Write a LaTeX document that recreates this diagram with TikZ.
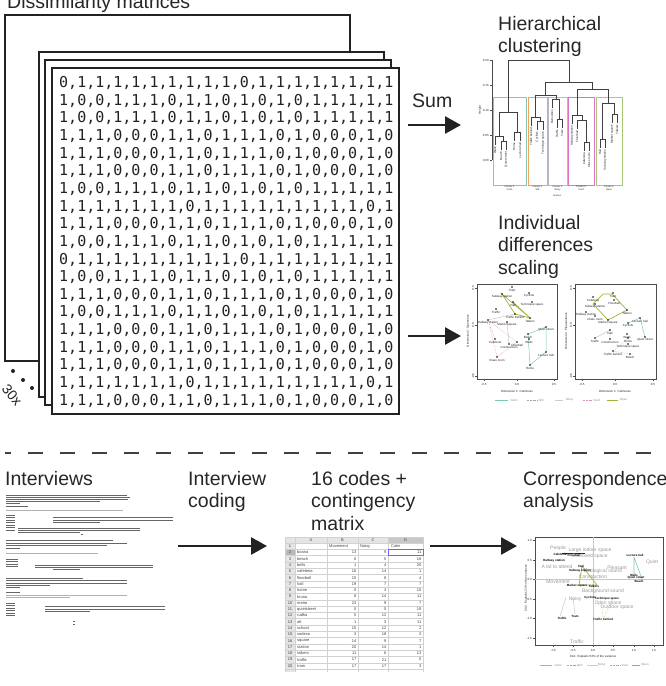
\documentclass[tikz,border=0pt]{standalone}
\usepackage{fontspec}
\setmainfont{Liberation Sans}
\newfontfamily\monofont{DejaVu Sans Mono}
\usetikzlibrary{arrows.meta}
\definecolor{ink}{HTML}{222222}
\definecolor{titlec}{HTML}{262626}
\definecolor{calmc}{HTML}{7CC8B4}
\definecolor{openc}{HTML}{9DB53A}
\definecolor{vividc}{HTML}{E08CC0}
\definecolor{c1box}{HTML}{88C8B0}
\definecolor{c2box}{HTML}{F2A65A}
\definecolor{c3box}{HTML}{B8B8C8}
\definecolor{c4box}{HTML}{E070C8}
\definecolor{c5box}{HTML}{A8C878}
\begin{document}
\begin{tikzpicture}[x=1pt,y=-1pt,
  title/.style={font=\fontsize{19.5}{22.8}\selectfont, text=titlec, inner sep=0pt, anchor=base west, align=left},
  mtx/.style={font=\monofont\fontsize{15}{17}\selectfont, text=ink, inner sep=0pt, anchor=base west},
  sheetbox/.style={draw=ink, line width=1.8pt, fill=white},
  bigarrow/.style={draw=ink, line width=2.7pt, -{Triangle[length=16pt,width=17pt]}},
  tt/.style={font=\fontsize{3}{3.4}\selectfont, inner sep=0pt, text=ink},
  tts/.style={font=\fontsize{2.4}{2.8}\selectfont, inner sep=0pt, text=ink},
  ttl/.style={font=\fontsize{3}{3.4}\selectfont, inner sep=0pt, text=black!45},
  cagray/.style={font=\fontsize{5}{5.5}\selectfont, inner sep=0pt, text=black!40},
  cablack/.style={font=\bfseries\fontsize{3}{3.4}\selectfont, inner sep=0pt, text=black},
  sheettxt/.style={font=\fontsize{4}{4.5}\selectfont, inner sep=0pt, text=black!75},
  dendro/.style={draw=black!75, line width=0.5pt},
  plotframe/.style={draw=black!70, line width=0.6pt},
  docline/.style={draw=black!60, line width=0.9pt},
  docgray/.style={draw=black!30, line width=0.8pt},
]
\useasboundingbox (0,0) rectangle (666,686);
\clip (0,0) rectangle (666,686);

% ---------- Dissimilarity matrices ----------
\node[title] (dm) at (7,8) {Dissimilarity matrices};
\draw[sheetbox] (5,15) rectangle (350,361);
\draw[sheetbox] (39,52) rectangle (384,397);
\draw[sheetbox] (45,60) rectangle (391,405);
\draw[sheetbox] (52,68) rectangle (399,414);
\foreach \r [count=\i from 0] in {
{0,1,1,1,1,1,1,1,1,1,0,1,1,1,1,1,1,1,1},
{1,0,0,1,1,1,0,1,1,0,1,0,1,0,1,1,1,1,1},
{1,0,0,1,1,1,0,1,1,0,1,0,1,0,1,1,1,1,1},
{1,1,1,0,0,0,1,1,0,1,1,1,0,1,0,0,0,1,0},
{1,1,1,0,0,0,1,1,0,1,1,1,0,1,0,0,0,1,0},
{1,1,1,0,0,0,1,1,0,1,1,1,0,1,0,0,0,1,0},
{1,0,0,1,1,1,0,1,1,0,1,0,1,0,1,1,1,1,1},
{1,1,1,1,1,1,1,0,1,1,1,1,1,1,1,1,1,0,1},
{1,1,1,0,0,0,1,1,0,1,1,1,0,1,0,0,0,1,0},
{1,0,0,1,1,1,0,1,1,0,1,0,1,0,1,1,1,1,1},
{0,1,1,1,1,1,1,1,1,1,0,1,1,1,1,1,1,1,1},
{1,0,0,1,1,1,0,1,1,0,1,0,1,0,1,1,1,1,1},
{1,1,1,0,0,0,1,1,0,1,1,1,0,1,0,0,0,1,0},
{1,0,0,1,1,1,0,1,1,0,1,0,1,0,1,1,1,1,1},
{1,1,1,0,0,0,1,1,0,1,1,1,0,1,0,0,0,1,0},
{1,1,1,0,0,0,1,1,0,1,1,1,0,1,0,0,0,1,0},
{1,1,1,0,0,0,1,1,0,1,1,1,0,1,0,0,0,1,0},
{1,1,1,1,1,1,1,0,1,1,1,1,1,1,1,1,1,0,1},
{1,1,1,0,0,0,1,1,0,1,1,1,0,1,0,0,0,1,0}}
  \node[mtx] (row\i) at (59,{87.5+17.65*\i}) {\r};
\fill[ink] (13,371) circle (2) (23,380) circle (2) (32,388) circle (2);
\node[font=\fontsize{14}{14}\selectfont, text=ink, rotate=-50, inner sep=0pt] (thirty) at (12,395) {30x};

% ---------- top arrows ----------
\node[title] (sum) at (412,107) {Sum};
\coordinate (a1s) at (408,125); \coordinate (a1e) at (461,125);
\coordinate (a2s) at (408,336); \coordinate (a2e) at (461,336);
\draw[bigarrow] (a1s) -- (a1e);
\draw[bigarrow] (a2s) -- (a2e);

% ---------- Hierarchical clustering ----------
\node[title] (hc) at (498,52.8) {Hierarchical\\clustering};
\draw[black!70, line width=0.5pt] (492,60) -- (492,160);
\foreach \yy/\lab [count=\i] in {60/0.20,85/0.15,110/0.10,135/0.05,160/0.00}{
  \draw[black!70, line width=0.4pt] (492,\yy) -- (490,\yy);
  \node[tt, anchor=east] (ht\i) at (489,\yy) {\lab};
}
\node[tt, rotate=90] (hlab) at (480,110) {Height};
\draw[c1box, line width=0.6pt] (493,97) rectangle (526,185);
\draw[c2box, line width=0.6pt] (528,97) rectangle (547,185);
\draw[c3box, line width=0.6pt] (548,97) rectangle (567,185);
\draw[c4box, line width=0.6pt] (568,97) rectangle (594,185);
\draw[c5box, line width=0.6pt] (596,97) rectangle (622,185);
% dendrogram
\draw[dendro] (501,150) |- (506,141) -- (506,150);
\draw[dendro] (495,145) |- (503.5,136) -- (503.5,141);
\draw[dendro] (514,141) |- (520,132) -- (520,141);
\draw[dendro] (499.25,136) |- (517,112) -- (517,132);
\draw[dendro] (537,130) |- (543,121) -- (543,130);
\draw[dendro] (531,126) |- (540,117) -- (540,121);
\draw[dendro] (557,128) |- (562,119) -- (562,128);
\draw[dendro] (552,108) |- (559.5,99) -- (559.5,119);
\draw[dendro] (535.5,117) |- (555.75,95) -- (555.75,99);
\draw[dendro] (584,151) |- (589,142) -- (589,151);
\draw[dendro] (577,129) |- (586.5,120) -- (586.5,142);
\draw[dendro] (572,124) |- (581.75,115) -- (581.75,120);
\draw[dendro] (600,148) |- (605,139) -- (605,148);
\draw[dendro] (612,123) |- (617,114) -- (617,123);
\draw[dendro] (602.5,139) |- (614.5,103) -- (614.5,114);
\draw[dendro] (576.9,115) |- (608.5,89) -- (608.5,103);
\draw[dendro] (545.6,95) |- (592.7,82) -- (592.7,89);
\draw[dendro] (508,112) |- (569.2,60) -- (569.2,82);
\foreach \xx/\yy/\lab [count=\i] in {495/145/Walls,501/150/Beach,506/150/Quiet street,514/141/Home,520/141/Lecture hall,
  531/126/Traffic behind,537/130/Cyclists,543/130/Technique space,552/108/Demolition,557/128/Traffic,562/128/Tram,
  572/124/Hallway station,577/129/Floorball,584/151/Cafeteria,589/151/Class room,600/148/Hall,605/148/Subway station,
  612/123/Market square,617/123/Talkers}
  \node[tt, rotate=90, anchor=east] (leaf\i) at (\xx,\yy+1.5) {\lab};
\foreach \xx/\lab [count=\i] in {509.5/Calm,537.5/Still,557.5/Noisy,581/Vivid,609/Open}
  \node[tts, align=center] (cl\i) at (\xx,188.5) {Cluster \i\\\lab};
\node[tts] (scenes) at (557,196) {Scenes};

% ---------- Individual differences scaling ----------
\node[title] (ids) at (498,274.6) {Individual\\differences\\scaling};
\draw[plotframe] (477,284) rectangle (557,379);
\draw[plotframe] (575,284) rectangle (656,379);
\foreach \px/\qa/\qb/\qc/\ylab [count=\k] in {477/484/517/554/{Dimension 2: Openness},575/582/615/653/{Dimension 2: Pleasantness}}{
  \foreach \yy/\lab [count=\i] in {288/0.5,325/0.0,376/-0.5}{
    \draw[black!70, line width=0.4pt] (\px,\yy) -- (\px-2,\yy);
    \node[tt, rotate=90] (my\k\i) at (\px-4,\yy) {\lab};
  }
  \foreach \xx/\lab [count=\i] in {\qa/-0.5,\qb/0.0,\qc/0.5}{
    \draw[black!70, line width=0.4pt] (\xx,379) -- (\xx,381);
    \node[tt] (mx\k\i) at (\xx,384) {\lab};
  }
  \node[tt] (mxl\k) at ({\px+40},391) {Dimension 1: Calmness};
  \node[tt, rotate=90] (myl\k) at (\px-9,331) {\ylab};
}
% left panel polygons
\draw[openc, line width=0.7pt] (502,294) -- (530,318) -- (515,314) -- cycle (513,302) -- (530,318);
\draw[calmc, line width=0.5pt] (546,327) -- (528,334) -- (530,365) -- (546,352) -- cycle;
\draw[vividc, line width=0.5pt, densely dotted] (488,320) -- (517,342) -- (497,357) -- cycle (488,320) -- (495,339);
\draw[black!25, line width=0.4pt] (515,314) -- (488,320) (507,322) -- (509,344);
\foreach \xx/\yy/\lab [count=\i] in {512/290/Tram,529/296/Cyclists,502/297/Subway station,513/305/Hall,532/305/Technique space,
  496/312/Traffic,515/317/Traffic behind,530/321/Talkers,488/323/Hallway station,507/325/Market square,546/330/Quiet street,
  528/337/Beach,529/342/Walls,495/342/Cafeteria,517/345/Floorball,509/347/Construction,546/355/Lecture hall,497/360/Class room,530/368/Home}{
  \fill[black] (\xx,\yy-3) circle (0.8);
  \node[tt] (ml\i) at (\xx,\yy) {\lab};
}
% right panel polygons
\draw[openc, line width=0.7pt] (603,294) -- (612,294) -- (627,310) -- (608,320) -- (593,304) -- cycle;
\draw[calmc, line width=0.5pt] (640,318) -- (645,337) (640,318) -- (628,323);
\draw[vividc, line width=0.5pt, densely dotted] (628,338) -- (613,351) -- (630,354);
\draw[black!25, line width=0.4pt] (595,338) -- (610,330) -- (610,339);
\foreach \xx/\yy/\lab [count=\i] in {613/296/Tram,614/303/Floorball,593/300/Cafeteria,595/307/Subway station,627/313/Talkers,
  586/315/Hallway station,595/319/Class room,608/323/Market square,640/321/Lecture hall,628/326/Cyclists,610/333/Hall,
  627/337/Walls,595/341/Traffic,610/342/Construction,628/341/Home,645/340/Quiet street,628/347/Technique space,
  613/354/Traffic behind,630/357/Beach}{
  \fill[black] (\xx,\yy-3) circle (0.8);
  \node[tt] (mr\i) at (\xx,\yy) {\lab};
}
% MDS legend
\draw[calmc, line width=0.4pt] (495,400) -- (508,400);
\draw[black!35, line width=0.4pt, densely dotted] (527,400) -- (537,400);
\draw[black!20, line width=0.4pt] (555,400) -- (563,400);
\draw[vividc, line width=0.4pt, densely dotted] (583,400) -- (592,400);
\draw[openc, line width=0.5pt] (607,400) -- (618,400);
\node[ttl] (lg1) at (514,400) {Calm};
\node[ttl] (lg2) at (541,400) {Still};
\node[ttl] (lg3) at (569.5,400) {Noisy};
\node[ttl] (lg4) at (596.5,400) {Vivid};
\node[ttl] (lg5) at (623.5,400) {Open};

% ---------- separator ----------
\draw[black!75, line width=2.5pt, dash pattern=on 15pt off 17pt, dash phase=9pt] (5,453) -- (666,453);

% ---------- bottom row ----------
\node[title] (intv) at (5,485) {Interviews};
\node[title] (coding) at (188,507.8) {Interview\\coding};
\node[title] (codes) at (311,530.6) {16 codes +\\contingency\\matrix};
\node[title] (ca) at (523,507.8) {Correspondence\\analysis};

% interview transcript (illegible lines)
\foreach \xa/\xb/\yy in {6/127/495,6/130/497.3,6/128/499.3,6/100/501.3,6/20/503.3,6/28/506.7,
  6/15/515,6/15/517.3,6/15/520,6/15/522.3,6/15/525,6/15/527.3,6/15/530,
  53/173/517.7,53/173/520,53/100/522.3,18/140/528.3,18/140/530.7,18/80/532.7,81/83/534.3,
  6/113/540,6/127/543.3,6/107/545.7,6/20/548.3,
  6/18/559,6/18/561.7,6/18/564,6/18/566.7,35/153/565,35/153/567.3,53/80/569.3,
  6/83/578.3,6/127/580.7,6/127/583.3,6/50/585.7,6/20/587.7,6/20/592.3,
  6/15/603.3,6/15/605.7,6/15/608.3,6/15/610.7,6/15/613.3,6/15/615.7,
  45/165/606.7,45/165/609,45/90/611,73/75/621.7,73/75/624}
  \draw[docline] (\xa,\yy) -- (\xb,\yy);
\foreach \xa/\xb/\yy in {6/123/510,6/98/553.3,6/127/595,6/70/597.3}
  \draw[docgray] (\xa,\yy) -- (\xb,\yy);

\coordinate (b1s) at (178,546); \coordinate (b1e) at (267,546);
\coordinate (b2s) at (430,546); \coordinate (b2e) at (517,546);
\draw[bigarrow] (b1s) -- (b1e);
\draw[bigarrow] (b2s) -- (b2e);

% spreadsheet
\fill[black!10] (285,537) rectangle (423,543);
\fill[black!10] (285,537) rectangle (295,672);
\fill[black!22] (388,537) rectangle (423,543);
\fill[black!28] (285,549.3) rectangle (295,555.6);
\foreach \i in {0,...,20}
  \draw[black!18, line width=0.3pt] (285,{543+6.3*\i}) -- (423,{543+6.3*\i});
\draw[black!18, line width=0.3pt] (285,537) -- (423,537);
\foreach \xx in {285,295,327,358,388,423}
  \draw[black!18, line width=0.3pt] (\xx,537) -- (\xx,672);
\node[sheettxt] (hA) at (311,540) {A};
\node[sheettxt] (hB) at (342.5,540) {B};
\node[sheettxt] (hC) at (373,540) {C};
\node[sheettxt] (hD) at (405.5,540) {D};
\foreach \i in {1,...,20}
  \node[sheettxt] (rn\i) at (290,{546.2+6.3*(\i-1)}) {\i};
\node[sheettxt, anchor=west] (cB1) at (329,546.2) {Movement};
\node[sheettxt, anchor=west] (cC1) at (360,546.2) {Noisy};
\node[sheettxt, anchor=west] (cD1) at (391,546.2) {Calm};
\foreach \nm/\mA/\mB/\mC [count=\i from 2] in {boana/13/9/11,beach/0/5/18,bells/1/4/20,cafeteria/16/14/1,floorball/15/8/4,
  hall/19/7/7,home/0/3/15,kruna/8/14/11,metro/23/9/7,quietstreet/0/5/19,rudha/5/12/11,alt/1/3/11,school/15/12/2,
  sodexo/3/18/3,square/14/9/7,station/20/14/1,talkers/11/6/13,traffic/17/21/0,tram/17/17/3}{
  \node[sheettxt, anchor=west] (sa\i) at (297,{546.2+6.3*(\i-1)}) {\nm};
  \node[sheettxt, anchor=east] (sb\i) at (356.5,{546.2+6.3*(\i-1)}) {\mA};
  \node[sheettxt, anchor=east] (sc\i) at (386.5,{546.2+6.3*(\i-1)}) {\mB};
  \node[sheettxt, anchor=east] (sd\i) at (421.5,{546.2+6.3*(\i-1)}) {\mC};
}
\draw[blue!60, line width=0.6pt] (388,549.3) rectangle (423,555.6);

% correspondence plot
\draw[plotframe] (535,537) rectangle (663,645);
\draw[black!22, line width=0.4pt] (593,537) -- (593,645) (535,579) -- (663,579);
\foreach \yy/\lab [count=\i] in {540/1.0,560/0.5,579/0.0,599/-0.5,618/-1.0,638/-1.5}{
  \draw[black!70, line width=0.4pt] (535,\yy) -- (533,\yy);
  \node[tt, anchor=east] (cy\i) at (532,\yy) {\lab};
}
\foreach \xx/\lab [count=\i] in {553/-1.0,573/-0.5,593/0.0,613/0.5,634/1.0,654/1.5}{
  \draw[black!70, line width=0.4pt] (\xx,645) -- (\xx,647);
  \node[tt] (cx\i) at (\xx,650) {\lab};
}
\node[tt] (cxl) at (593,657) {CA1: Explains 53\% of the variance};
\node[tt, rotate=90] (cyl) at (526,588) {CA2: Explains 23\% of the variance};
\draw[calmc, line width=0.6pt] (634,557) -- (634,574) (634,557) -- (642,579);
\draw[openc, line width=0.7pt] (582,566) -- (579,585) (582,566) -- (597,585) (579,585) -- (597,585);
\draw[red!50!black, line width=0.6pt] (562,553) -- (585,553);
\draw[black!25, line width=0.4pt] (566,597) -- (560,616) (573,597) -- (575,614);
\draw[brown!60, line width=0.5pt, densely dotted] (600,597) -- (603,617) (612,600) -- (604,617);
\foreach \xx/\yy/\lab [count=\i] in {558/548/People,590/550/Large indoor space,590/556/Enclosed space,652/562/Quiet,
  557/567/A lot to attend,617/568/Pleasant,603/571.5/Ecological sound,558/582/Movement,593/577/Construction,
  603/591/Background sound,575/599/Noisy,608/603/Open space,617/607/Outdoor space,577/642/Traffic}
  \node[cagray] (cg\i) at (\xx,\yy) {\lab};
\foreach \xx/\yy/\lab [count=\i] in {560/554/Cafeteria,574/555/Floorball,554/561/Hallway station,581/566/Hall,
  580/571/Subway station,635/555/Lecture hall,634/575/Walls,636/578/Quiet street,639/581/Beach,577/586/Market square,
  594/586/Talkers,590/597.5/Cyclists,607/599/Technique space,562/618/Traffic,575/616/Tram,603/619/Traffic behind}
  \node[cablack] (cb\i) at (\xx,\yy) {\lab};
% CA legend
\draw[calmc, line width=0.4pt] (540,665) -- (552,665);
\draw[black!35, line width=0.4pt, densely dotted] (567,665) -- (577,665);
\draw[black!20, line width=0.4pt] (587,665) -- (598,665);
\draw[vividc, line width=0.4pt, densely dotted] (610,665) -- (620,665);
\draw[openc, line width=0.5pt] (632,665) -- (640,665);
\node[ttl] (cl1g) at (558,665) {Calm};
\node[ttl] (cl2g) at (580,665) {Still};
\node[ttl] (cl3g) at (601.5,665) {Noisy};
\node[ttl] (cl4g) at (624.5,665) {Vivid};
\node[ttl] (cl5g) at (645,665) {Open};
\end{tikzpicture}
\end{document}
